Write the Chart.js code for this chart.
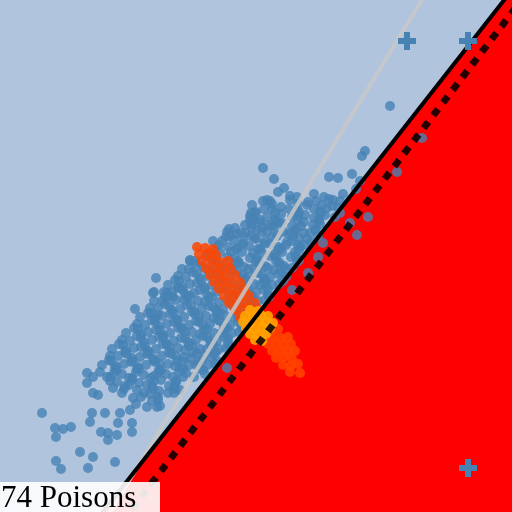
<!DOCTYPE html>
<html><head><meta charset="utf-8">
<script src="https://cdn.jsdelivr.net/npm/chart.js@4.4.1/dist/chart.umd.min.js"></script>
<style>
html,body{margin:0;padding:0;background:#b0c4de;overflow:hidden}
#wrap{position:relative;width:512px;height:512px}
canvas{display:block}
#label{position:absolute;left:0;top:482px;width:160px;height:30px;background:rgba(255,255,255,0.9);font-family:'Liberation Serif',serif;font-size:31px;line-height:30px;color:#000;white-space:nowrap;padding-left:1px;box-sizing:border-box}
</style></head><body>
<div id="wrap"><canvas id="c" width="512" height="512"></canvas><div id="label">74 Poisons</div></div>
<script>
// axis domain
const axisMin = 0, axisMax = 512;
// reference lines (x, y pairs)
const boundaryLine = [[95,-10],[512,522]];
const dottedLine = [[122,-10],[530,523]];
const grayLine = [[104,-10],[428,522]];
// blue samples: sparse outliers
const blueOutliers = [
[390,406],[263,344],[365,361],[362,356],[274,333],[284,324],[329,335],[338,334],[352,338],[360,331],[356,323],
[397,340],[422,374],[368,295],[357,277],[350,289],[323,269],[318,255],[308,239],[292,222],[227,144],
[42,99],[55,84],[63,83],[71,85],[56,75],[90,90],[101,80],[108,79],[117,77],[118,89],[132,89],[132,80],[108,72],
[80,60],[93,55],[115,50],[56,51],[61,43],[88,44],[92,99],[105,99],[120,99],[130,102],[147,105],[157,105],
[87,139],[93,135],[87,129],[98,117],[93,119],[135,203],[154,220],[178,225],[156,234],[153,219],[167,219],[173,215],[158,197],
[190,251],[227,280],[237,278],[252,307],[255,299],[250,292],[260,292],[267,312],[263,285]
];
// blue samples: main cloud
const blueCloud = [
[278,320],[297,315],[314,318],[329,313],[343,318],
[263,311],[281,305],[290,312],[307,307],[316,311],[332,306],[340,311],
[256,300],[272,303],[281,298],[297,302],[305,297],[320,301],[327,304],[340,299],
[250,296],[259,290],[275,293],[282,289],[298,296],[304,290],[319,293],[325,297],
[235,284],[251,288],[257,282],[272,286],[279,289],[294,281],[301,286],[315,282],[320,288],
[226,275],[241,279],[255,274],[262,280],[277,276],[284,280],[299,274],[304,279],[318,276],
[213,271],[228,265],[234,272],[249,266],[256,273],[271,268],[278,265],[292,271],[298,267],[311,270],
[208,259],[216,264],[231,260],[238,264],[253,259],[260,263],[274,258],[281,264],[295,260],[300,265],
[190,252],[206,256],[213,250],[228,255],[235,249],[250,254],[256,250],[270,256],[276,251],[291,255],[299,252],
[189,243],[196,248],[211,242],[218,247],[233,243],[239,249],[254,244],[260,248],[274,242],[280,247],[292,244],
[178,236],[193,240],[200,234],[215,238],[222,233],[237,240],[244,234],[258,239],[264,233],[278,238],[286,235],
[175,232],[182,226],[197,229],[204,225],[219,232],[226,228],[240,226],[246,232],[260,227],[266,231],[279,228],
[164,220],[178,224],[185,218],[200,222],[207,217],[222,224],[229,219],[244,223],[250,218],[264,222],[268,217],
[162,211],[169,216],[184,212],[190,216],[205,210],[212,215],[227,212],[233,217],[247,211],[253,215],[265,212],
[150,204],[165,208],[172,202],[187,207],[194,201],[209,206],[216,202],[231,208],[237,203],[250,207],[255,204],
[148,199],[155,194],[170,198],[177,193],[192,200],[199,196],[214,194],[220,199],[234,195],[239,200],[251,196],
[137,188],[152,192],[159,186],[174,190],[181,185],[196,191],[203,187],[218,192],[224,186],[238,190],[242,185],
[134,184],[141,178],[156,182],[163,177],[178,184],[185,180],[200,178],[207,183],[221,179],[227,184],[239,180],
[122,172],[137,176],[144,170],[159,175],[166,169],[181,174],[188,170],[203,176],[210,171],[224,175],[228,170],
[119,168],[126,162],[141,165],[148,161],[163,168],[170,164],[185,162],[192,167],[207,163],[213,168],[226,164],
[110,156],[125,160],[132,154],[147,158],[154,153],[169,160],[176,156],[191,154],[197,159],[211,155],[216,160],
[109,152],[116,146],[131,150],[138,145],[153,152],[160,148],[175,146],[182,151],[196,147],[202,152],[215,148],
[100,140],[115,144],[122,138],[137,143],[144,137],[159,142],[166,138],[180,144],[186,139],[200,143],[205,138],
[110,135],[117,130],[132,134],[139,129],[154,136],[161,132],[176,130],[183,135],
[113,124],[129,127],[137,122],[152,126],[159,121],[174,125],[180,122],
[122,119],[133,114],[150,118],[158,115],[174,119],
[136,108],[152,111],[160,106]
];
// blue samples: cloud, in-between rows
const blueCloudB = [
[270,311],[290,316],[308,310],[324,315],[333,312],
[264,303],[272,308],[289,303],[298,308],[314,303],[322,307],[338,304],
[251,299],[267,295],[275,299],[292,295],[299,300],[314,294],[321,299],[335,295],
[245,287],[253,292],[268,287],[276,291],[292,286],[298,292],[313,287],[319,291],
[229,283],[246,279],[252,284],[267,280],[274,284],[289,278],[296,283],[310,279],[316,283],
[222,271],[230,276],[243,270],[250,276],[265,271],[272,275],[287,270],[293,276],[307,273],
[219,267],[236,263],[243,268],[258,263],[264,268],[279,262],[286,267],[299,262],[304,267],
[212,255],[220,259],[235,254],[242,260],[256,254],[262,259],[276,255],[282,260],[296,256],
[195,251],[202,246],[216,252],[224,247],[238,251],[244,245],[259,251],[265,246],[279,250],[284,246],[297,250],
[182,243],[197,238],[204,244],[219,239],[226,243],[242,237],[248,243],[262,238],[268,244],[282,239],[286,243],
[179,231],[186,235],[201,231],[208,236],[223,230],[230,236],[244,231],[250,236],[264,230],[270,235],[283,231],
[168,227],[183,222],[190,228],[205,223],[212,227],[227,222],[234,228],[248,223],[254,228],[268,223],[272,227],
[165,215],[172,220],[187,215],[194,219],[209,214],[216,220],[231,215],[237,219],[251,214],[256,220],[269,215],
[154,211],[169,206],[176,212],[191,207],[198,211],[213,205],[219,210],[233,206],[239,212],[253,207],[258,211],
[151,199],[158,204],[173,199],[180,203],[195,198],[202,204],[217,199],[223,203],[237,198],[243,204],[255,199],
[140,195],[155,190],[162,196],[177,191],[184,195],[199,190],[206,196],[220,191],[226,196],[240,191],[244,195],
[138,183],[145,187],[160,182],[167,188],[182,183],[189,187],[204,182],[210,188],[224,183],[230,187],[242,183],
[126,179],[141,174],[148,180],[163,175],[170,179],[185,174],[192,180],[207,175],[214,179],[228,174],[232,179],
[123,167],[130,171],[145,166],[152,172],[167,167],[174,171],[189,166],[196,172],[211,167],[217,171],[229,166],
[112,163],[127,158],[134,164],[149,159],[156,163],[171,158],[178,164],[193,159],[200,163],[214,158],[219,163],
[111,151],[118,156],[133,151],[140,155],[155,150],[162,156],[177,151],[184,155],[198,150],[204,156],[217,151],
[102,147],[117,142],[124,148],[139,143],[146,147],[161,142],[168,148],[183,143],[189,147],[203,142],[208,147],
[107,135],[114,139],[129,134],[136,140],[151,134],[158,139],[173,135],[179,140],[194,135],
[110,131],[125,126],[132,132],[147,127],[154,131],[169,126],[176,131],
[124,123],[144,119],[153,123],[168,119],[175,123],
[141,115],[158,112]
];
// orange-red samples
const redOrangePoints = [
[197,265],[205,264],[213,263],
[199,258],[208,258],[216,257],
[202,251],[211,252],[220,250],[228,251],
[206,244],[214,245],[222,243],[230,244],
[210,237],[218,238],[226,236],[235,237],
[214,230],[222,231],[231,229],[240,230],
[219,223],[227,224],[236,222],[245,223],
[224,216],[232,217],[241,215],[249,216],
[229,209],[237,210],[246,208],[255,209],
[235,202],[243,203],[251,201],[259,202],
[240,195],[248,196],
[262,182],[270,181],[278,183],
[265,175],[273,176],[281,174],[288,175],
[268,168],[276,169],[284,167],[291,168],
[272,161],[280,162],[288,160],[295,161],
[276,154],[284,155],[292,153],
[283,147],[291,146],[298,148],
[290,140],[300,139]
];
// orange samples
const orangePoints = [
[250,202],[258,201],
[245,196],[253,195],[261,197],[268,196],
[243,190],[251,189],[259,191],[266,190],[273,189],
[246,184],[254,183],[262,185],[270,184],
[250,178],[258,177],[266,178],
[255,172],[262,171]
];
// highlighted markers
const plusPoints = [[407,471],[468,471],[468,44]];

const toPts = a => a.map(p => ({x: p[0], y: p[1]}));
const lineDS = (pts, color, width, dash, order) => ({
  data: toPts(pts), showLine: true, fill: false, borderColor: color, borderWidth: width,
  borderDash: dash, pointRadius: 0, order: order
});
const ptDS = (pts, color, order) => ({
  data: toPts(pts), showLine: false, backgroundColor: color, borderWidth: 0,
  pointRadius: 5, order: order
});

new Chart(document.getElementById('c'), {
  type: 'scatter',
  data: { datasets: [
    { data: toPts(boundaryLine), showLine: true, fill: 'start', backgroundColor: '#ff0000',
      borderWidth: 0, borderColor: 'rgba(0,0,0,0)', pointRadius: 0, order: 20 },
    ptDS(blueOutliers.concat(blueCloud, blueCloudB), 'rgba(70,130,180,0.8)', 15),
    ptDS(redOrangePoints, 'rgba(255,69,0,0.85)', 14),
    ptDS(orangePoints, 'rgba(255,165,0,0.9)', 13),
    lineDS(grayLine, 'rgba(200,200,200,0.85)', 4, [], 10),
    lineDS(boundaryLine, '#000000', 4, [], 9),
    lineDS(dottedLine, 'rgba(0,0,0,0.85)', 7, [8, 8], 8),
    { data: toPts(plusPoints), showLine: false, pointStyle: 'cross', pointRadius: 9,
      borderWidth: 6, borderColor: 'rgb(70,130,180)', backgroundColor: 'rgb(70,130,180)', order: 1 }
  ]},
  options: {
    responsive: false, animation: false, events: [],
    layout: { padding: 0, autoPadding: false },
    plugins: { legend: { display: false }, tooltip: { enabled: false } },
    scales: {
      x: { type: 'linear', min: axisMin, max: axisMax, display: false },
      y: { type: 'linear', min: axisMin, max: axisMax, display: false }
    }
  }
});
</script>
</body></html>
